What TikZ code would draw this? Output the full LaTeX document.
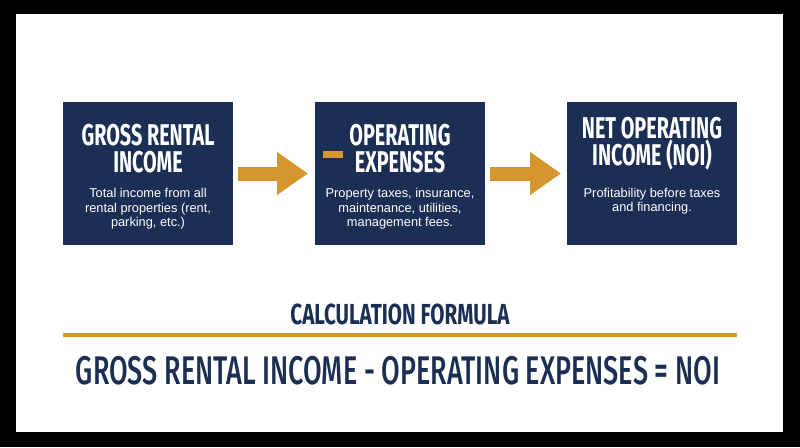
\documentclass[tikz,border=0pt]{standalone}
\usepackage{fontspec}
\setmainfont{Liberation Sans}
\newfontfamily\headfont[FakeStretch=0.66]{Fira Sans}
\newfontfamily\calcfont[FakeStretch=0.71]{Fira Sans}
\newfontfamily\formulafont[FakeStretch=0.675]{Fira Sans Medium}
\usetikzlibrary{arrows.meta}
\definecolor{navy}{RGB}{27,47,84}
\definecolor{gold}{RGB}{212,150,45}
\tikzstyle{stepbox}=[fill=navy, minimum width=170pt, minimum height=143pt, inner sep=0, outer sep=0]
\tikzstyle{boxtitle}=[text=white, align=center, inner sep=0,
                      font=\headfont\bfseries\fontsize{30}{27}\selectfont]
\tikzstyle{boxtext}=[text=white, align=center, inner sep=0,
                     font=\fontsize{12.8}{14.5}\selectfont]
\tikzstyle{flow}=[gold, line width=14pt, -{Triangle[length=31pt, width=41pt]}]
\tikzstyle{heading}=[text=navy, inner sep=0]

\begin{document}
\begin{tikzpicture}[x=1pt, y=-1pt]
    % frame
    \fill[black] (0, 0) rectangle (800, 447);
    \fill[white] (16, 14) rectangle (783, 432);
    % the three steps
    \node[stepbox] (gross) at (148, 173.5) {};
    \node[stepbox] (opex) at (400, 173.5) {};
    \node[stepbox] (noi) at (652, 173.5) {};
    \node[boxtitle] (grosstitle) at (148, 149) {GROSS RENTAL\\INCOME};
    \node[boxtext] (grosstext) at (148, 209) {Total income from all\\rental properties (rent,\\parking, etc.)};
    \node[boxtitle] (opextitle) at (400, 149) {OPERATING\\EXPENSES};
    \node[boxtext] (opextext) at (400, 209) {Property taxes, insurance,\\maintenance, utilities,\\management fees.};
    \node[boxtitle] (noititle) at (652, 144) {NET OPERATING\\INCOME (NOI)};
    \node[boxtext] (noitext) at (652, 201) {Profitability before taxes\\and financing.};
    % minus sign
    \fill[gold] ([xshift=8pt, yshift=23pt]opex.west) rectangle +(20, 7);
    \draw[flow] ([xshift=5pt]gross.east) -- ([xshift=-7pt]opex.west);
    \draw[flow] ([xshift=5pt]opex.east) -- ([xshift=-6pt]noi.west);
    % formula
    \node[heading, font=\calcfont\bfseries\fontsize{29}{30}\selectfont] (calc) at (400, 314) {CALCULATION FORMULA};
    \draw[gold, line width=4pt] (63, 335) -- (737, 335);
    \node[heading, font=\formulafont\fontsize{40}{42}\selectfont] (formula) at (398, 371) {GROSS RENTAL INCOME - OPERATING EXPENSES = NOI};
\end{tikzpicture}
\end{document}
